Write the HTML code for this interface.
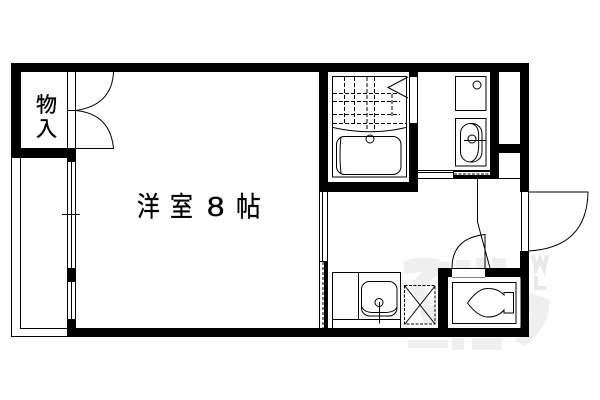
<!DOCTYPE html>
<html><head><meta charset="utf-8"><style>
html,body{margin:0;padding:0;background:#fff}
svg{display:block}
text{font-family:"Liberation Sans","Noto Sans CJK JP",sans-serif}
</style></head><body>
<svg width="600" height="400" viewBox="0 0 600 400" xmlns="http://www.w3.org/2000/svg">
<rect width="600" height="400" fill="#fff"/>
<!-- watermark -->
<g fill="#efefef">
<path d="M403 262 Q420 254 440 260 L438 272 Q428 288 415 292 L412 282 L422 272 L404 274Z"/>
<path d="M436 262h14v14h-14zM456 260h14v14h-14zM476 258h12v14h-12zM492 258h14v14h-14z"/>
<path d="M512 295 Q530 290 550 300 L548 316 Q540 335 525 346 L514 340 Q530 325 532 312 L515 310Z"/>
<path d="M408 340h40v8h-40zM452 338h12v12h-12zM472 338h30v12h-30z"/>
<path d="M452 288h12v14h-12zM470 282h14l-4 14h-10zM495 285h12v12h-12z" opacity=".6"/>
<path d="M410 286h14l8 18h-14zM418 305h16l4 18h-14z"/>
</g>
<g fill="none" stroke="#e8e8e8" stroke-width="4">
<path d="M533 255l3 14 4-10 4 10 3-14"/>
<path d="M536 276v12h10"/>
</g>
<g shape-rendering="crispEdges" fill="#000">
<!-- outer walls -->
<rect x="11" y="63" width="518" height="9"/>
<rect x="11" y="63" width="10" height="95"/>
<rect x="11" y="148" width="65" height="10"/>
<rect x="67" y="148" width="8" height="14"/>
<rect x="67" y="268" width="8" height="14"/>
<rect x="67" y="319" width="8" height="18"/>
<rect x="67" y="328" width="462" height="9"/>
<rect x="520" y="63" width="9" height="129"/>
<rect x="520" y="251" width="9" height="86"/>
<!-- bath walls -->
<rect x="319" y="72" width="9" height="120"/>
<rect x="319" y="182" width="99" height="10"/>
<rect x="409" y="72" width="9" height="120"/>
<rect x="410" y="77" width="7" height="46" fill="#fff"/>
<!-- closet wall right part -->
<rect x="490" y="72" width="9" height="106"/>
<rect x="499" y="144" width="21" height="9"/>
<rect x="453" y="170" width="37" height="8"/>
<rect x="454" y="172" width="36" height="3" fill="#fff"/>
<!-- toilet walls -->
<rect x="438" y="268" width="83" height="9"/>
<rect x="438" y="268" width="10" height="60"/>
<rect x="452" y="268" width="33" height="9" fill="#fff"/>
<!-- left window lines -->
<rect x="67" y="72" width="1" height="76"/>
<rect x="75" y="72" width="1" height="76"/>
<rect x="67" y="158" width="1" height="170"/>
<rect x="71" y="158" width="1" height="170"/>
<rect x="75" y="158" width="1" height="170"/>
<rect x="62" y="214" width="18" height="1"/>
<!-- balcony -->
<rect x="11" y="158" width="1" height="178"/>
<rect x="20" y="158" width="1" height="171"/>
<rect x="20" y="328" width="47" height="1"/>
<rect x="11" y="336" width="56" height="1"/>
<!-- closet door lines -->
<rect x="67" y="110" width="9" height="1"/>
<rect x="76" y="148" width="38" height="1"/>
<!-- kitchen side wall -->
<rect x="319" y="192" width="1" height="136"/>
<rect x="322" y="192" width="1" height="69"/>
<rect x="327" y="192" width="1" height="136"/>
<rect x="324" y="261" width="4" height="67"/>
<rect x="319" y="261" width="5" height="1"/>
<!-- kitchen counter partition lines -->
<rect x="418" y="170" width="35" height="1"/>
<rect x="418" y="172" width="35" height="1"/>
<rect x="418" y="178" width="102" height="1"/>
<rect x="521" y="192" width="1" height="59"/>
<rect x="528" y="192" width="1" height="59"/>
<rect x="452" y="268" width="33" height="1"/>
<rect x="452" y="277" width="33" height="1"/>
</g>
<g fill="none" stroke="#000" stroke-width="1">
<!-- closet doors -->
<path d="M113.500 72 Q112 105 76 110.500"/>
<path d="M76 110.500 Q110 114 113.500 148"/>
<!-- bath -->
<rect x="332.500" y="76.500" width="74" height="100.500"/>
<rect x="336.500" y="136.500" width="64.500" height="38" rx="8"/>
<path d="M341 136.500 Q339 155 341 174"/>
<path d="M333 127.500 Q370 136 406 127.500"/>
<circle cx="370" cy="139" r="4"/>
<g stroke-dasharray="4 2">
<path d="M344.500 77V123M354.500 77V123M367 77V131M374.500 77V131M392 94V117"/>
<path d="M333 93.500H400M333 101.500H400M333 114.500H400M333 123.500H406"/>
</g>
<path d="M408 77L388 87.500L408 98"/>
<!-- washer -->
<rect x="455.500" y="76.500" width="30.500" height="34"/>
<circle cx="477" cy="85" r="4"/>
<!-- basin -->
<rect x="455.500" y="118.500" width="30.500" height="47.500"/>
<rect x="460.500" y="123.500" width="21.500" height="38.500" rx="10"/>
<path d="M470 123.500 Q480 124 478.500 140 Q480 160 470 162"/>
<circle cx="472" cy="139" r="4"/>
<path d="M464 140.500H486"/>
<path d="M454 174H490" stroke-dasharray="3 1.500"/>
<!-- kitchen -->
<path d="M332.500 328V272.500H400.500V328M358.500 272.500V319M332.500 319.500H400.500"/>
<rect x="361.500" y="281.500" width="35.500" height="34.500" rx="8"/>
<path d="M362 307 Q364 312 372 312.500H386 Q395 312 397 307"/>
<circle cx="379" cy="302.500" r="4"/>
<path d="M379.500 302V323.500"/>
<rect x="404.500" y="285.500" width="30.500" height="38.500" stroke-dasharray="3 1.500"/>
<path d="M405 286L435 324M435 286L405 324"/>
<path d="M323 262V328" stroke-dasharray="3 2"/>
<!-- toilet -->
<rect x="448.500" y="277.500" width="72" height="50" fill="#fff" stroke="none"/>
<rect x="452.500" y="282.500" width="63.500" height="41"/>
<path d="M467.500 303 Q478 288 488 288.500 Q498 288.500 504 295 V292.500 H513.500 V313 H504 V310 Q498 317 488 317 Q478 317 467.500 303Z"/>
<!-- toilet door -->
<path d="M452 268 Q452 238 485 234.500V268"/>
<path d="M477.500 178V222L490 268"/>
<!-- entrance door -->
<path d="M528 192H588 Q587 248 528 251"/>
</g>
<!-- labels -->
<g fill="#000" stroke="#000" stroke-width=".35">
<text x="36" y="112" font-size="21">物</text>
<text x="36" y="136" font-size="21">入</text>
<text transform="translate(137 216) scale(.88 1.05)" font-size="26">洋</text>
<text transform="translate(170 216) scale(.88 1.05)" font-size="26">室</text>
<text transform="translate(207 216) scale(1.2 1.05)" font-size="26">8</text>
<text transform="translate(236 216) scale(.95 1.05)" font-size="26">帖</text>
</g>
</svg>
</body></html>
